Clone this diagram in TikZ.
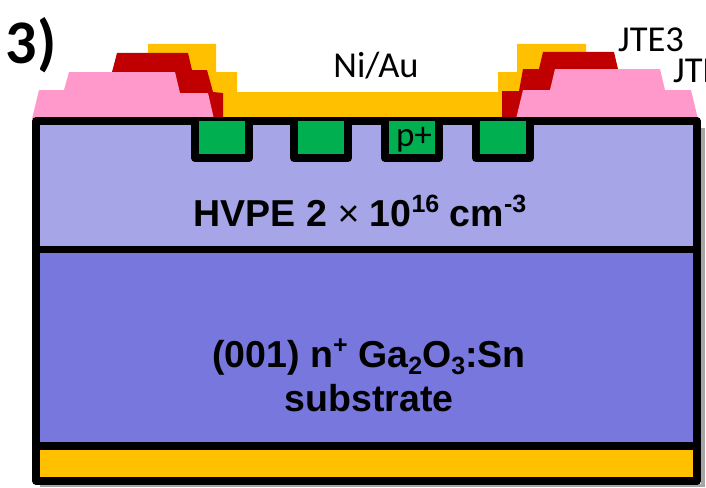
\documentclass[tikz,border=0pt]{standalone}
\usepackage{fontspec}
\setmainfont{Carlito}
\newfontfamily\arialfont{Liberation Sans}
\definecolor{goldmetal}{HTML}{FFC000}
\definecolor{jtered}{HTML}{C00000}
\definecolor{jtepink}{HTML}{FF99CC}
\definecolor{driftblue}{HTML}{A5A5E8}
\definecolor{subblue}{HTML}{7777DD}
\definecolor{pgreen}{HTML}{00B050}
\newcommand{\upbit}[1]{\raisebox{0.38em}{\fontsize{25}{25}\selectfont #1}}
\newcommand{\downbit}[1]{\raisebox{-0.2em}{\fontsize{25}{25}\selectfont #1}}
\tikzset{
    layerline/.style = {line width = 7.5pt, line join = round},
    pwell/.style = {fill = pgreen, draw = black, line width = 8pt, line join = round},
    boldlabel/.style = {font = \fontsize{37.5}{44}\selectfont\arialfont\bfseries, text = black, align = center},
    thinlabel/.style = {font = \fontsize{36.5}{40}\selectfont, text = black}
}
\begin{document}
\begin{tikzpicture}[x = 1pt, y = -1pt]
        \useasboundingbox (0, 0) rectangle (706, 487);

        % top metal and the JTE steps
        \fill[goldmetal] (148, 44) -- (216, 44) -- (216, 72) -- (237, 72) -- (237, 92) -- (498, 92) -- (498, 72) -- (517, 72) -- (517, 44) -- (586, 44) -- (586, 119) -- (148, 119) -- cycle;
        \fill[jtered] (117, 53) -- (188, 53) -- (192, 70) -- (207, 70) -- (213, 92) -- (223, 93) -- (223, 119) -- (112, 119) -- (112, 72) -- cycle;
        \fill[jtered] (543, 52) -- (614, 52) -- (618, 69) -- (618, 119) -- (502, 119) -- (502, 91) -- (519, 91) -- (523, 69) -- (539, 69) -- cycle;
        \fill[jtepink] (32, 119) -- (39, 90) -- (64, 90) -- (69, 72) -- (175, 72) -- (180, 93) -- (208, 93) -- (214, 119) -- cycle;
        \fill[jtepink] (516, 119) -- (523, 90) -- (550, 90) -- (555, 69) -- (660, 69) -- (665, 90) -- (691, 90) -- (698, 119) -- cycle;

        % layers
        \fill[black!35] (40, 484) rectangle (705, 487);
        \fill[black!35] (701, 128) rectangle (705, 487);
        \fill[driftblue] (36, 121) rectangle (697, 249);
        \fill[subblue] (36, 249) rectangle (697, 446);
        \fill[goldmetal] (36, 446) rectangle (697, 481);
        \draw[layerline] (36, 121) rectangle (697, 481);
        \draw[layerline] (36, 249.5) -- (697, 249.5);
        \draw[layerline] (36, 446) -- (697, 446);

        % p+ wells
        \foreach \wellx in {195, 294, 385, 476} {
            \filldraw[pwell] (\wellx, 121) -- (\wellx, 158) -- (\wellx + 54, 158) -- (\wellx + 54, 121);
        }

        \node[thinlabel, font = \fontsize{35}{40}\selectfont] (ptext) at (414, 140) {p+};
        \node[thinlabel] (niau) at (376, 66) {Ni/Au};
        \node[thinlabel, anchor = west, inner sep = 0pt] (jtethree) at (618, 40) {JTE3};
        \node[thinlabel, anchor = west, inner sep = 0pt] (jtetwo) at (673, 71) {JTE};
        \node[font = \fontsize{62}{68}\selectfont\bfseries, text = black] (stepnum) at (31, 45) {3)};
        \node[boldlabel] (hvpe) at (360, 211) {HVPE 2 {\mdseries ×} 10\upbit{16} cm\upbit{-3}};
        \node[boldlabel] (substrate) at (369, 375) {(001) n\upbit{+} Ga\downbit{2}O\downbit{3}:Sn\\substrate};
    \end{tikzpicture}
\end{document}
